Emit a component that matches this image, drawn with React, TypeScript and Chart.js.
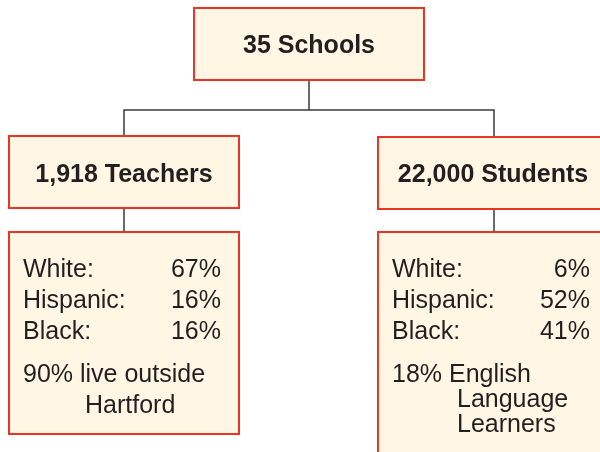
import React, { useEffect, useRef } from "react";
import { Chart, registerables } from "chart.js";

Chart.register(...registerables);

// ---- data ----
const ROOT_LABEL = "35 Schools";
const GROUP_LABELS = ["1,918 Teachers", "22,000 Students"];
const GROUP_NAMES = ["White:", "Hispanic:", "Black:"];
const TEACHER_PCT = [67, 16, 16];
const STUDENT_PCT = [6, 52, 41];
const TEACHER_NOTE = ["90% live outside", "Hartford"];
const STUDENT_NOTE = ["18% English", "Language", "Learners"];

const FILL = "#FFF6E3";
const BORDER = "#EC3326";
const LINE = "#3a3a3a";
const TEXT = "#231F20";
const FONT = '"Liberation Sans", Arial, Helvetica, sans-serif';

const orgPlugin = {
  id: "orgChart",
  afterDraw(chart: any) {
    const ctx: CanvasRenderingContext2D = chart.ctx;
    const xs = chart.scales.x;
    const ys = chart.scales.y;
    const X = (v: number) => xs.getPixelForValue(v);
    const Y = (v: number) => ys.getPixelForValue(v);

    const box = (x0: number, y0: number, x1: number, y1: number) => {
      ctx.save();
      ctx.fillStyle = FILL;
      ctx.fillRect(X(x0), Y(y0), X(x1) - X(x0), Y(y1) - Y(y0));
      ctx.strokeStyle = BORDER;
      ctx.lineWidth = 2;
      ctx.strokeRect(X(x0), Y(y0), X(x1) - X(x0), Y(y1) - Y(y0));
      ctx.restore();
    };
    const line = (pts: number[][]) => {
      ctx.save();
      ctx.strokeStyle = LINE;
      ctx.lineWidth = 1.5;
      ctx.beginPath();
      pts.forEach((p, i) => (i ? ctx.lineTo(X(p[0]), Y(p[1])) : ctx.moveTo(X(p[0]), Y(p[1]))));
      ctx.stroke();
      ctx.restore();
    };
    const text = (s: string, x: number, y: number, align: CanvasTextAlign, bold: boolean) => {
      ctx.save();
      ctx.fillStyle = TEXT;
      ctx.font = `${bold ? "bold " : ""}25px ${FONT}`;
      ctx.textAlign = align;
      ctx.textBaseline = "alphabetic";
      ctx.fillText(s, X(x), Y(y));
      ctx.restore();
    };

    // connectors
    line([[309, 80], [309, 110]]);
    line([[124, 136], [124, 110], [494, 110], [494, 137]]);
    line([[124, 208], [124, 232]]);
    line([[494, 209], [494, 232]]);

    // root
    box(194, 8, 424, 80);
    text(ROOT_LABEL, 309, 53, "center", true);

    // groups
    const groups = [
      { x0: 9, pct: TEACHER_PCT, note: TEACHER_NOTE, bottom: 434, noteStep: 31, indent: 62 },
      { x0: 378, pct: STUDENT_PCT, note: STUDENT_NOTE, bottom: 475, noteStep: 25, indent: 65 },
    ];
    groups.forEach((g, gi) => {
      const x0 = g.x0;
      const x1 = x0 + 230;
      box(x0, gi === 0 ? 136 : 137, x1, gi === 0 ? 208 : 209);
      text(GROUP_LABELS[gi], x0 + 115, 182, "center", true);
      box(x0, 232, x1, g.bottom);
      GROUP_NAMES.forEach((n, i) => {
        const by = 277 + i * 31;
        text(n, x0 + 14, by, "left", false);
        text(`${g.pct[i]}%`, x0 + 212, by, "right", false);
      });
      g.note.forEach((s, i) => {
        const by = 382 + i * g.noteStep;
        text(s, x0 + 14 + (i === 0 ? 0 : g.indent), by, "left", false);
      });
    });
  },
};

export default function App() {
  const ref = useRef<HTMLCanvasElement | null>(null);
  useEffect(() => {
    if (!ref.current) return;
    const chart = new Chart(ref.current, {
      type: "scatter",
      data: { datasets: [] },
      options: {
        animation: false,
        responsive: false,
        devicePixelRatio: 1,
        layout: { padding: 0 },
        plugins: { legend: { display: false }, tooltip: { enabled: false } },
        scales: {
          x: { type: "linear", min: 0, max: 600, display: false },
          y: { type: "linear", min: 0, max: 452, reverse: true, display: false },
        },
      },
      plugins: [orgPlugin],
    });
    return () => chart.destroy();
  }, []);
  return (
    <div style={{ position: "fixed", left: 0, top: 0, width: 600, height: 452, background: "#fff" }}>
      <canvas ref={ref} width={600} height={452} style={{ display: "block", width: 600, height: 452 }} />
    </div>
  );
}
